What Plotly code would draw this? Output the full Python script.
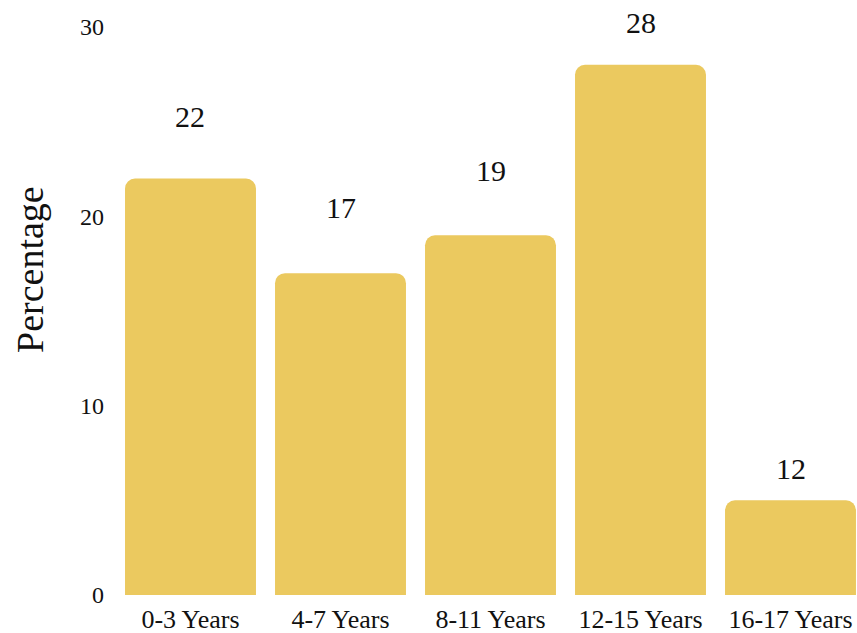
import plotly.graph_objects as go

categories = ["0-3 Years", "4-7 Years", "8-11 Years", "12-15 Years", "16-17 Years"]
bar_values = [22, 17, 19, 28, 5]
label_texts = ["22", "17", "19", "28", "12"]
y_ticks = [0, 10, 20, 30]

FONT = "Liberation Serif"
BAR_COLOR = "#EBC95F"
label_shift_px = [62, 66, 65, 42, 32]

W, H = 857, 633
ml, mr, mt, mb = 115, 0, 27, 38
pw, ph = W - ml - mr, H - mt - mb

fig = go.Figure()
fig.add_trace(go.Bar(
    x=list(range(len(categories))),
    y=bar_values,
    marker=dict(color=BAR_COLOR, cornerradius=10, line=dict(width=0)),
    hoverinfo="skip",
))

for i, (v, t, s) in enumerate(zip(bar_values, label_texts, label_shift_px)):
    fig.add_annotation(
        x=i, y=v, xref="x", yref="y", text=t, showarrow=False,
        yshift=s, font=dict(family=FONT, size=30, color="#111111"),
    )

# y-axis title placed as rotated annotation (pixel position converted to paper coords)
title_px_x, title_px_y = 30, 270
fig.add_annotation(
    x=(title_px_x - ml) / pw, y=(H - mb - title_px_y) / ph,
    xref="paper", yref="paper", text="Percentage",
    textangle=-90, showarrow=False, xanchor="center", yanchor="middle",
    font=dict(family=FONT, size=38, color="#111111"),
)

fig.update_layout(
    width=W, height=H,
    margin=dict(l=ml, r=mr, t=mt, b=mb, pad=0, autoexpand=False),
    plot_bgcolor="white", paper_bgcolor="white",
    bargap=0.127,
    showlegend=False,
    xaxis=dict(
        range=[-0.5033, -0.5033 + pw / 150],
        tickmode="array",
        tickvals=list(range(len(categories))),
        ticktext=categories,
        showgrid=False, zeroline=False, showline=False, ticks="",
        tickfont=dict(family=FONT, size=26, color="#111111"),
        ticklabelstandoff=6,
        automargin=False,
    ),
    yaxis=dict(
        range=[0, 30],
        tickmode="array",
        tickvals=y_ticks,
        showgrid=False, zeroline=False, showline=False, ticks="",
        tickfont=dict(family=FONT, size=24, color="#111111"),
        ticklabelstandoff=10,
        automargin=False,
    ),
)

fig.write_html(
    "out.html",
    config={"displayModeBar": False},
    post_script="document.body.style.margin='0';document.body.style.overflow='hidden';",
)
